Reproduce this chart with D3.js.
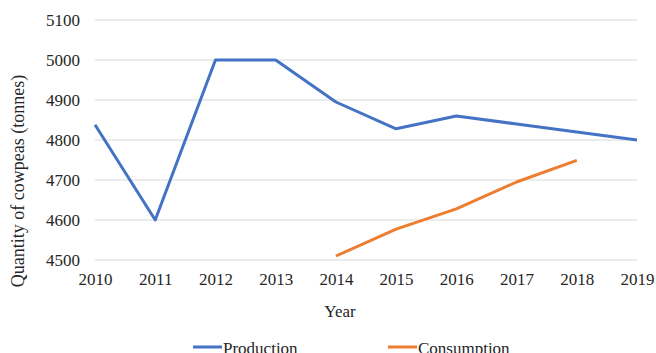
<!DOCTYPE html>
<html>
<head>
<meta charset="utf-8">
<script src="https://cdn.jsdelivr.net/npm/d3@7"></script>
<style>
  body { margin: 0; background: #fff; }
  svg text { font-family: "Liberation Serif", "DejaVu Serif", serif; fill: #262626; }
</style>
</head>
<body>
<div id="chart"></div>
<script>
var years = [2010, 2011, 2012, 2013, 2014, 2015, 2016, 2017, 2018, 2019];
var production = [4838, 4600, 5000, 5000, 4895, 4828, 4860, 4840, 4820, 4800];
var consumptionYears = [2014, 2015, 2016, 2017, 2018];
var consumption = [4510, 4577, 4628, 4695, 4749];
var yTicks = [4500, 4600, 4700, 4800, 4900, 5000, 5100];

var svgWidth = 656;
var svgHeight = 353;
var serif = "'Liberation Serif', 'DejaVu Serif', serif";

var margin = { top: 20, right: 19, bottom: 93, left: 95 };
var width = svgWidth - margin.left - margin.right;
var height = svgHeight - margin.top - margin.bottom;

var svg = d3.select("#chart")
  .append("svg")
  .attr("width", svgWidth)
  .attr("height", svgHeight)
  .attr("font-family", serif);

var chartGroup = svg.append("g")
  .attr("transform", `translate(${margin.left}, ${margin.top})`);

var xScale = d3.scaleLinear()
  .domain([2010, 2019])
  .range([0, width]);

var yScale = d3.scaleLinear()
  .domain([4500, 5100])
  .range([height, 0]);

// gridlines
chartGroup.selectAll(".grid")
  .data(yTicks)
  .enter()
  .append("line")
  .attr("x1", 0)
  .attr("x2", width)
  .attr("y1", d => yScale(d))
  .attr("y2", d => yScale(d))
  .attr("stroke", "#d9d9d9")
  .attr("stroke-width", 1);

// y axis labels
var leftAxis = d3.axisLeft(yScale).tickValues(yTicks).tickFormat(d3.format("d")).tickSize(0).tickPadding(15);
var yAxis = chartGroup.append("g").call(leftAxis)
  .attr("font-family", serif)
  .attr("font-size", 17);
yAxis.select(".domain").remove();
yAxis.selectAll("text").attr("fill", "#262626");

// x axis labels
var bottomAxis = d3.axisBottom(xScale).tickValues(years).tickFormat(d3.format("d")).tickSize(0).tickPadding(13);
var xAxis = chartGroup.append("g")
  .attr("transform", `translate(0, ${height})`)
  .call(bottomAxis)
  .attr("font-family", serif)
  .attr("font-size", 17);
xAxis.select(".domain").remove();
xAxis.selectAll("text").attr("fill", "#262626");

var line = d3.line()
  .x(d => xScale(d[0]))
  .y(d => yScale(d[1]));

chartGroup.append("path")
  .datum(years.map((y, i) => [y, production[i]]))
  .attr("d", line)
  .attr("fill", "none")
  .attr("stroke", "#4472C4")
  .attr("stroke-width", 3)
  .attr("stroke-linejoin", "round");

chartGroup.append("path")
  .datum(consumptionYears.map((y, i) => [y, consumption[i]]))
  .attr("d", line)
  .attr("fill", "none")
  .attr("stroke", "#ED7D31")
  .attr("stroke-width", 3)
  .attr("stroke-linejoin", "round");

// axis titles
svg.append("text")
  .attr("transform", "translate(24, 181) rotate(-90)")
  .attr("text-anchor", "middle")
  .attr("font-size", 18)
  .text("Quantity of cowpeas (tonnes)");

svg.append("text")
  .attr("x", 340)
  .attr("y", 317)
  .attr("text-anchor", "middle")
  .attr("font-size", 17)
  .text("Year");

// legend
var legendItems = [
  { name: "Production", color: "#4472C4", x: 193 },
  { name: "Consumption", color: "#ED7D31", x: 388 }
];
var legend = svg.selectAll(".legend")
  .data(legendItems)
  .enter()
  .append("g")
  .attr("transform", d => `translate(${d.x}, 347)`);
legend.append("line")
  .attr("x1", 0).attr("x2", 29)
  .attr("y1", 0).attr("y2", 0)
  .attr("stroke", d => d.color)
  .attr("stroke-width", 3);
legend.append("text")
  .attr("x", 30)
  .attr("y", 7)
  .attr("font-size", 17)
  .text(d => d.name);
</script>
</body>
</html>
